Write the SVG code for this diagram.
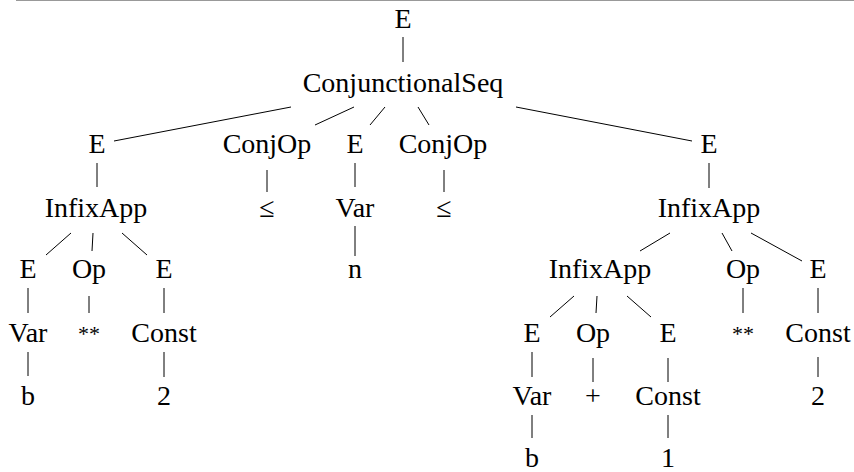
<svg xmlns="http://www.w3.org/2000/svg" width="854" height="472" viewBox="0 0 854 472">
<style>
text{font-family:"Liberation Serif","Times New Roman",serif;font-size:28px;fill:#000;text-anchor:middle}
.ast{font-size:22px}
#edges line{stroke:#000;stroke-width:1}
</style>
<rect width="854" height="472" fill="#fff"/>
<line x1="16" y1="0.5" x2="854" y2="0.5" stroke="#999" stroke-width="1.2"/>
<g id="edges">
<line x1="403" y1="37" x2="403" y2="62"/>
<line x1="291" y1="107" x2="114" y2="141"/>
<line x1="354" y1="107" x2="315" y2="125"/>
<line x1="385" y1="107" x2="370" y2="125"/>
<line x1="418" y1="107" x2="429" y2="125"/>
<line x1="516" y1="107" x2="692" y2="141"/>
<line x1="97" y1="163" x2="97" y2="187"/>
<line x1="267" y1="170" x2="267" y2="192"/>
<line x1="355" y1="163" x2="355" y2="187"/>
<line x1="444" y1="170" x2="444" y2="192"/>
<line x1="709" y1="163" x2="709" y2="188"/>
<line x1="71" y1="233" x2="46" y2="255"/>
<line x1="93" y1="233" x2="92" y2="251"/>
<line x1="122" y1="233" x2="147" y2="255"/>
<line x1="355" y1="226" x2="355" y2="256"/>
<line x1="670" y1="233" x2="640" y2="251"/>
<line x1="722" y1="233" x2="732" y2="251"/>
<line x1="751" y1="233" x2="802" y2="261"/>
<line x1="28" y1="288" x2="28" y2="313"/>
<line x1="89" y1="296" x2="89" y2="313"/>
<line x1="164" y1="288" x2="164" y2="313"/>
<line x1="574" y1="296" x2="550" y2="317"/>
<line x1="597" y1="296" x2="596" y2="313"/>
<line x1="627" y1="296" x2="651" y2="317"/>
<line x1="743" y1="288" x2="743" y2="313"/>
<line x1="818" y1="288" x2="818" y2="313"/>
<line x1="28" y1="352" x2="28" y2="376"/>
<line x1="164" y1="352" x2="164" y2="377"/>
<line x1="532" y1="352" x2="532" y2="377"/>
<line x1="593" y1="358" x2="593" y2="382"/>
<line x1="668" y1="358" x2="668" y2="382"/>
<line x1="818" y1="357" x2="818" y2="377"/>
<line x1="532" y1="415" x2="532" y2="438"/>
<line x1="668" y1="415" x2="668" y2="438"/>
</g>
<g id="n_root"><text x="403" y="28">E</text></g>
<g id="n_cs"><text x="403" y="92">ConjunctionalSeq</text></g>
<g id="n_e1"><text x="97" y="153">E</text></g>
<g id="n_conjop1"><text x="267" y="153">ConjOp</text></g>
<g id="n_e2"><text x="355" y="153">E</text></g>
<g id="n_conjop2"><text x="443" y="153">ConjOp</text></g>
<g id="n_e3"><text x="709" y="153">E</text></g>
<g id="n_infixL"><text x="96" y="217">InfixApp</text></g>
<g id="n_le1"><text x="267" y="217">≤</text></g>
<g id="n_varM"><text x="355" y="217">Var</text></g>
<g id="n_le2"><text x="444" y="217">≤</text></g>
<g id="n_infixR"><text x="709" y="217">InfixApp</text></g>
<g id="n_eL1"><text x="28" y="278">E</text></g>
<g id="n_opL"><text x="89" y="278">Op</text></g>
<g id="n_eL2"><text x="164" y="278">E</text></g>
<g id="n_n"><text x="355" y="278">n</text></g>
<g id="n_infixR2"><text x="600" y="278">InfixApp</text></g>
<g id="n_opR"><text x="743" y="278">Op</text></g>
<g id="n_eR"><text x="818" y="278">E</text></g>
<g id="n_varL"><text x="28" y="342">Var</text></g>
<g id="n_astL"><text class="ast" x="89" y="341">**</text></g>
<g id="n_constL"><text x="164" y="342">Const</text></g>
<g id="n_eR1"><text x="532" y="342">E</text></g>
<g id="n_opR2"><text x="593" y="342">Op</text></g>
<g id="n_eR2"><text x="668" y="342">E</text></g>
<g id="n_astR"><text class="ast" x="743" y="341">**</text></g>
<g id="n_constR"><text x="818" y="342">Const</text></g>
<g id="n_bL"><text x="28" y="405">b</text></g>
<g id="n_2L"><text x="164" y="405">2</text></g>
<g id="n_varR"><text x="532" y="405">Var</text></g>
<g id="n_plus"><text x="593" y="405">+</text></g>
<g id="n_constR2"><text x="668" y="405">Const</text></g>
<g id="n_2R"><text x="818" y="405">2</text></g>
<g id="n_bR"><text x="532" y="467">b</text></g>
<g id="n_1R"><text x="668" y="467">1</text></g>
</svg>
